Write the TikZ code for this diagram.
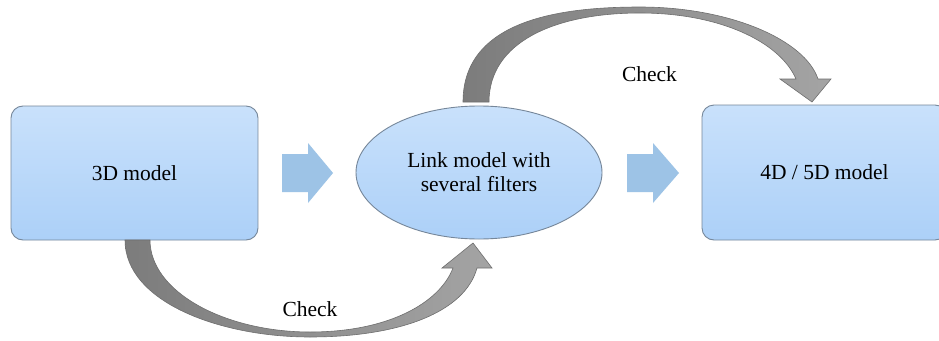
\documentclass[tikz,border=0pt]{standalone}
\usepackage{fontspec}
\setmainfont{Liberation Serif}
\newfontfamily\timesfont{Liberation Serif}
\usetikzlibrary{shapes.geometric}
\definecolor{boxtop}{HTML}{C9E1FB}
\definecolor{boxbot}{HTML}{ACD0F8}
\definecolor{boxline}{HTML}{76879A}
\definecolor{blockblue}{HTML}{9DC3E6}
\definecolor{graydark}{HTML}{7C7C7C}
\definecolor{graylight}{HTML}{A4A4A4}
\definecolor{grayline}{HTML}{6E6E6E}
\begin{document}
\begin{tikzpicture}[x=1pt,y=-1pt,
  lbl/.style={font=\timesfont\fontsize{21.5}{24}\selectfont, align=center, text=black},
  modelbox/.style={draw=boxline, line width=0.9pt, rounded corners=12pt,
    top color=boxtop, bottom color=boxbot, inner sep=0pt, lbl},
  linkell/.style={ellipse, draw=boxline, line width=0.9pt,
    top color=boxtop, bottom color=boxbot, inner sep=0pt, lbl},
  blockarrow/.style={fill=blockblue, draw=none},
  curvearrow/.style={draw=grayline, line width=0.6pt, left color=graydark, right color=graylight}
]
\clip (0,0) rectangle (939,340);
\fill[white] (0,0) rectangle (939,340);

% nodes
\node[modelbox, minimum width=247pt, minimum height=134pt] (m3d) at (134.5,173) {3D model};
\node[modelbox, minimum width=245pt, minimum height=135pt] (m45d) at (824.5,172.5) {4D / 5D model};
\node[linkell, minimum width=246pt, minimum height=133pt] (link) at (479,172.5) {Link model with\\several filters};

% block arrows
\path[blockarrow] (282,154) -- (308,154) -- (308,143) -- (333,173) -- (308,203) -- (308,192) -- (282,192) -- cycle;
\path[blockarrow] (627,154) -- (653,154) -- (653,143) -- (679,173) -- (653,203) -- (653,192) -- (627,192) -- cycle;

% top curved arrow: link -> 4D/5D
\coordinate (t1) at (463,102);
\coordinate (t2) at (489,102);
\path[curvearrow] (t1) .. controls (463,20) and (560,7) .. (640,7)
  .. controls (730,7) and (805,40) .. (818,79)
  -- (831,79) -- (812,102) -- (780,79) -- (796,79)
  .. controls (780,42) and (720,13) .. (640,13)
  .. controls (555,13) and (489,42) .. (t2) -- cycle;

% bottom curved arrow: 3D -> link
\coordinate (b1) at (125,240);
\coordinate (b2) at (150,240);
\path[curvearrow] (b1) .. controls (125,302) and (220,337) .. (310,337)
  .. controls (400,337) and (465,312) .. (477,268)
  -- (492,268) -- (473,243) -- (442,268) -- (453,268)
  .. controls (440,302) and (390,332) .. (310,332)
  .. controls (225,332) and (150,292) .. (b2) -- cycle;

% labels
\node[lbl] (chk1) at (649.5,74) {Check};
\node[lbl] (chk2) at (310,309) {Check};
\end{tikzpicture}
\end{document}
